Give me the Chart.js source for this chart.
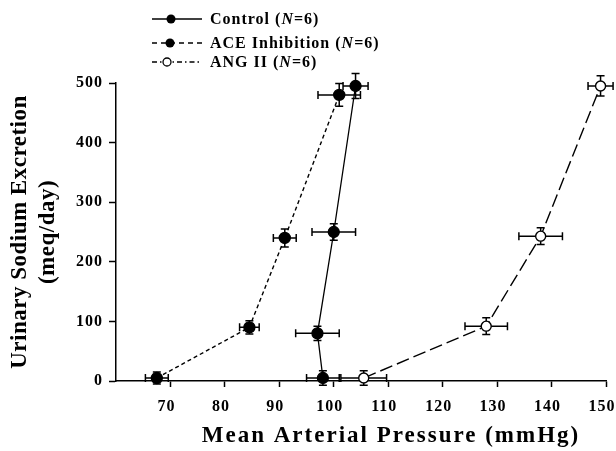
<!DOCTYPE html>
<html>
<head>
<meta charset="utf-8">
<script src="https://cdn.jsdelivr.net/npm/chart.js@4"></script>
<style>
  html,body{margin:0;padding:0;background:#fff;}
  #wrap{position:relative;width:616px;height:451px;}
  canvas{position:absolute;left:0;top:0;}
  .leg{position:absolute;left:150px;height:20px;font-family:"Liberation Serif","Times New Roman",serif;font-weight:bold;font-size:16px;letter-spacing:1px;color:#000;white-space:nowrap;line-height:20px;}
  .leg svg{position:absolute;left:0;top:0;}
  .leg span{position:absolute;left:60px;top:0;}
</style>
</head>
<body>
<div id="wrap">
  <canvas id="c" width="616" height="451"></canvas>
  <div class="leg" style="top:9px;">
    <svg width="56" height="20"><line x1="2" y1="10" x2="52" y2="10" stroke="#000" stroke-width="1.3"/><circle cx="21" cy="10" r="4.5" fill="#000"/></svg>
    <span>Control (<i>N</i>=6)</span>
  </div>
  <div class="leg" style="top:33px;">
    <svg width="56" height="20"><line x1="2" y1="10" x2="52" y2="10" stroke="#000" stroke-width="1.3" stroke-dasharray="5,4"/><circle cx="20" cy="10" r="4.5" fill="#000"/></svg>
    <span>ACE Inhibition (<i>N</i>=6)</span>
  </div>
  <div class="leg" style="top:52px;">
    <svg width="56" height="20"><line x1="2" y1="10" x2="52" y2="10" stroke="#000" stroke-width="1.3" stroke-dasharray="5,3,1.5,3"/><circle cx="17" cy="10" r="4" fill="#fff" stroke="#000" stroke-width="1.3"/></svg>
    <span>ANG II (<i>N</i>=6)</span>
  </div>
</div>
<script>
// ---- data ----
const controlX   = [98, 97, 100, 104];
const controlY   = [5, 80, 250, 495];
const controlXErr = [3, 4, 4, 2.3];
const controlYErr = [12, 12, 14, 21];

const aceX   = [67.5, 84.5, 91, 101];
const aceY   = [5, 90, 240, 480];
const aceXErr = [2.1, 1.8, 2.1, 3.9];
const aceYErr = [10, 11, 15, 19];

const angX   = [105.5, 128, 138, 149];
const angY   = [5, 92, 243, 495];
const angXErr = [4.2, 3.9, 4, 2.3];
const angYErr = [12, 14, 14, 17];

const xTicks = [70, 80, 90, 100, 110, 120, 130, 140, 150];
const yTicks = [0, 100, 200, 300, 400, 500];

const toPts = (xs, ys) => xs.map((x, i) => ({x: x, y: ys[i]}));

const errorBars = {
  id: 'errorBars',
  beforeDatasetsDraw(chart) {
    const ctx = chart.ctx;
    const xs = chart.scales.x, ys = chart.scales.y;
    ctx.save();
    ctx.strokeStyle = '#000';
    ctx.lineWidth = 1.5;
    chart.data.datasets.forEach(ds => {
      ds.data.forEach((p, i) => {
        const cx = xs.getPixelForValue(p.x), cy = ys.getPixelForValue(p.y);
        const xl = xs.getPixelForValue(p.x - ds.xErr[i]);
        const xr = xs.getPixelForValue(p.x + ds.xErr[i]);
        const yt = ys.getPixelForValue(p.y + ds.yErr[i]);
        const yb = ys.getPixelForValue(p.y - ds.yErr[i]);
        const cap = 4;
        ctx.beginPath();
        ctx.moveTo(xl, cy); ctx.lineTo(xr, cy);
        ctx.moveTo(xl, cy - cap); ctx.lineTo(xl, cy + cap);
        ctx.moveTo(xr, cy - cap); ctx.lineTo(xr, cy + cap);
        ctx.moveTo(cx, yt); ctx.lineTo(cx, yb);
        ctx.moveTo(cx - cap, yt); ctx.lineTo(cx + cap, yt);
        ctx.moveTo(cx - cap, yb); ctx.lineTo(cx + cap, yb);
        ctx.stroke();
      });
    });
    ctx.restore();
  }
};

// widen text slightly (reference glyphs are a little stretched); optional title shift
function spaced(scale, titleSp, labelSp, titleShift) {
  if (scale._spaced) return;
  scale._spaced = true;
  const ctx = scale.ctx;
  const dt = scale.drawTitle, dl = scale.drawLabels;
  scale.drawTitle = function () {
    ctx.save(); ctx.letterSpacing = titleSp + 'px'; ctx.translate(titleShift || 0, 0);
    dt.apply(this, arguments); ctx.restore();
  };
  scale.drawLabels = function () { ctx.save(); ctx.letterSpacing = labelSp + 'px'; dl.apply(this, arguments); ctx.restore(); };
}

const serif = "'Liberation Serif','Times New Roman',serif";

new Chart(document.getElementById('c'), {
  type: 'scatter',
  data: {
    datasets: [
      {label: 'Control', data: toPts(controlX, controlY), xErr: controlXErr, yErr: controlYErr,
       showLine: true, borderColor: '#000', borderWidth: 1.3, pointRadius: 5.5,
       pointBackgroundColor: '#000', pointBorderColor: '#000', clip: false},
      {label: 'ACE Inhibition', data: toPts(aceX, aceY), xErr: aceXErr, yErr: aceYErr,
       showLine: true, borderColor: '#000', borderWidth: 1.4, borderDash: [4, 3], pointRadius: 5.5,
       pointBackgroundColor: '#000', pointBorderColor: '#000', clip: false},
      {label: 'ANG II', data: toPts(angX, angY), xErr: angXErr, yErr: angYErr,
       showLine: true, borderColor: '#000', borderWidth: 1.4, borderDash: [13, 5], pointRadius: 5,
       pointBackgroundColor: '#fff', pointBorderColor: '#000', pointBorderWidth: 1.4, clip: false}
    ]
  },
  options: {
    responsive: false,
    animation: false,
    events: [],
    layout: {padding: {top: 83, right: 10, left: 0, bottom: 0}},
    plugins: {legend: {display: false}, tooltip: {enabled: false}},
    scales: {
      x: {
        type: 'linear', min: 60, max: 150,
        afterBuildTicks: s => { s.ticks = xTicks.map(v => ({value: v})); },
        afterFit: s => { s.height = 70; s.paddingLeft = 0; s.paddingRight = 0; spaced(s, 2, 1, 30); },
        border: {display: true, color: '#000', width: 1.5},
        grid: {drawOnChartArea: false, drawTicks: true, tickLength: 6, color: '#000', tickWidth: 1.5},
        ticks: {color: '#000', padding: 10, labelOffset: -4, font: {family: serif, weight: 'bold', size: 16}, maxRotation: 0},
        title: {display: true, text: 'Mean Arterial Pressure (mmHg)', color: '#000',
                font: {family: serif, weight: 'bold', size: 23, lineHeight: 1.2}, padding: {top: 0, bottom: 1}}
      },
      y: {
        type: 'linear', min: 0, max: 500,
        afterBuildTicks: s => { s.ticks = yTicks.map(v => ({value: v})); },
        afterFit: s => { s.width = 116; spaced(s, 0.5, 1, 0); },
        border: {display: true, color: '#000', width: 1.5},
        grid: {drawOnChartArea: false, drawTicks: true, tickLength: 7, color: '#000', tickWidth: 1.5},
        ticks: {color: '#000', padding: 6, font: {family: serif, weight: 'bold', size: 16}},
        title: {display: true, text: ['Urinary Sodium Excretion', '(meq/day)'], color: '#000',
                font: {family: serif, weight: 'bold', size: 23, lineHeight: 1.22}, padding: {top: 6, bottom: 0}}
      }
    }
  },
  plugins: [errorBars]
});
</script>
</body>
</html>
